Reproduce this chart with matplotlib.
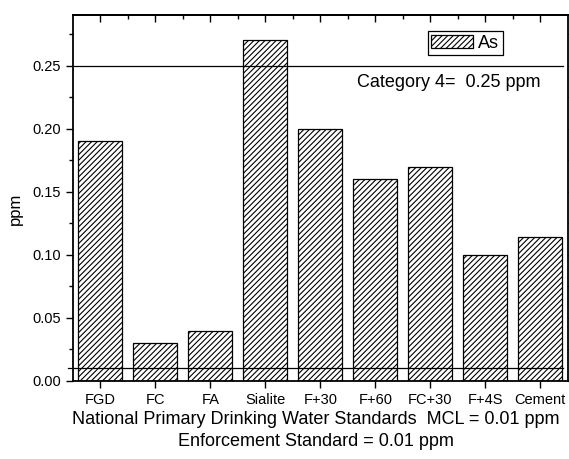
import matplotlib
matplotlib.use('Agg')
import matplotlib.pyplot as plt
from matplotlib.ticker import MultipleLocator, FixedLocator, FormatStrFormatter
import numpy as np


# arsenic leachate per sample
samples = ['FGD', 'FC', 'FA', 'Sialite', 'F+30', 'F+60', 'FC+30', 'F+4S', 'Cement']
arsenic = [0.19, 0.03, 0.04, 0.27, 0.20, 0.16, 0.17, 0.10, 0.114]

category4 = 0.25
mcl = 0.01

plt.rcParams['font.family'] = ['Liberation Sans', 'DejaVu Sans']
plt.rcParams['hatch.linewidth'] = 0.8

fig = plt.figure(figsize=(5.69, 4.59), dpi=100)
ax = fig.add_axes([0.128, 0.17, 0.870, 0.797])

x = np.arange(1, len(samples) + 1)
ax.bar(x, arsenic, width=0.8, color='white', edgecolor='black',
	linewidth=0.9, hatch='//////', label='As')

# reference levels
ax.axhline(category4, xmin=0.0, xmax=0.99, color='black', linewidth=0.9)
ax.axhline(mcl, xmin=-0.01, xmax=0.99, color='black', linewidth=0.9, clip_on=False)
ax.text(0.575, 0.816, 'Category 4=  0.25 ppm', transform=ax.transAxes,
	fontsize=13, va='center')

ax.set_xlim(0.5, len(samples) + 0.5)
ax.set_ylim(0, 0.29)
ax.set_xticks(x)
ax.set_xticklabels(samples)
ax.yaxis.set_major_locator(MultipleLocator(0.05))
ax.yaxis.set_minor_locator(MultipleLocator(0.025))
ax.yaxis.set_major_formatter(FormatStrFormatter('%.2f'))

ax.tick_params(axis='both', which='major', direction='out', length=5, width=1.0,
	labelsize=10.5, right=True)
ax.tick_params(axis='y', which='minor', direction='out', length=3, width=1.0,
	right=True)

# top axis: ticks pointing in, at every sample and halfway between
top = ax.secondary_xaxis('top')
top.set_xticks(x)
top.set_xticklabels([])
top.xaxis.set_minor_locator(FixedLocator(x[:-1] + 0.5))
top.tick_params(which='major', direction='in', length=5, width=1.0)
top.tick_params(which='minor', direction='in', length=3, width=1.0)
top.spines['top'].set_linewidth(1.3)

for side in ['top', 'bottom', 'left', 'right']:
	ax.spines[side].set_linewidth(1.3)

ax.set_ylabel('ppm', fontsize=12)
ax.yaxis.set_label_coords(-0.1, 0.47)
ax.set_xlabel('National Primary Drinking Water Standards  MCL = 0.01 ppm\n'
	'Enforcement Standard = 0.01 ppm', fontsize=13, labelpad=2, linespacing=1.35)
ax.xaxis.set_label_coords(0.491, -0.082)

leg = ax.legend(loc='upper right', bbox_to_anchor=(0.869, 0.956), fontsize=13,
	fancybox=False, framealpha=1, edgecolor='black', handlelength=2.3,
	handleheight=0.7, borderpad=0.2, handletextpad=0.3, borderaxespad=0)
leg.get_frame().set_linewidth(0.9)

fig.savefig('out.png', dpi=100)
